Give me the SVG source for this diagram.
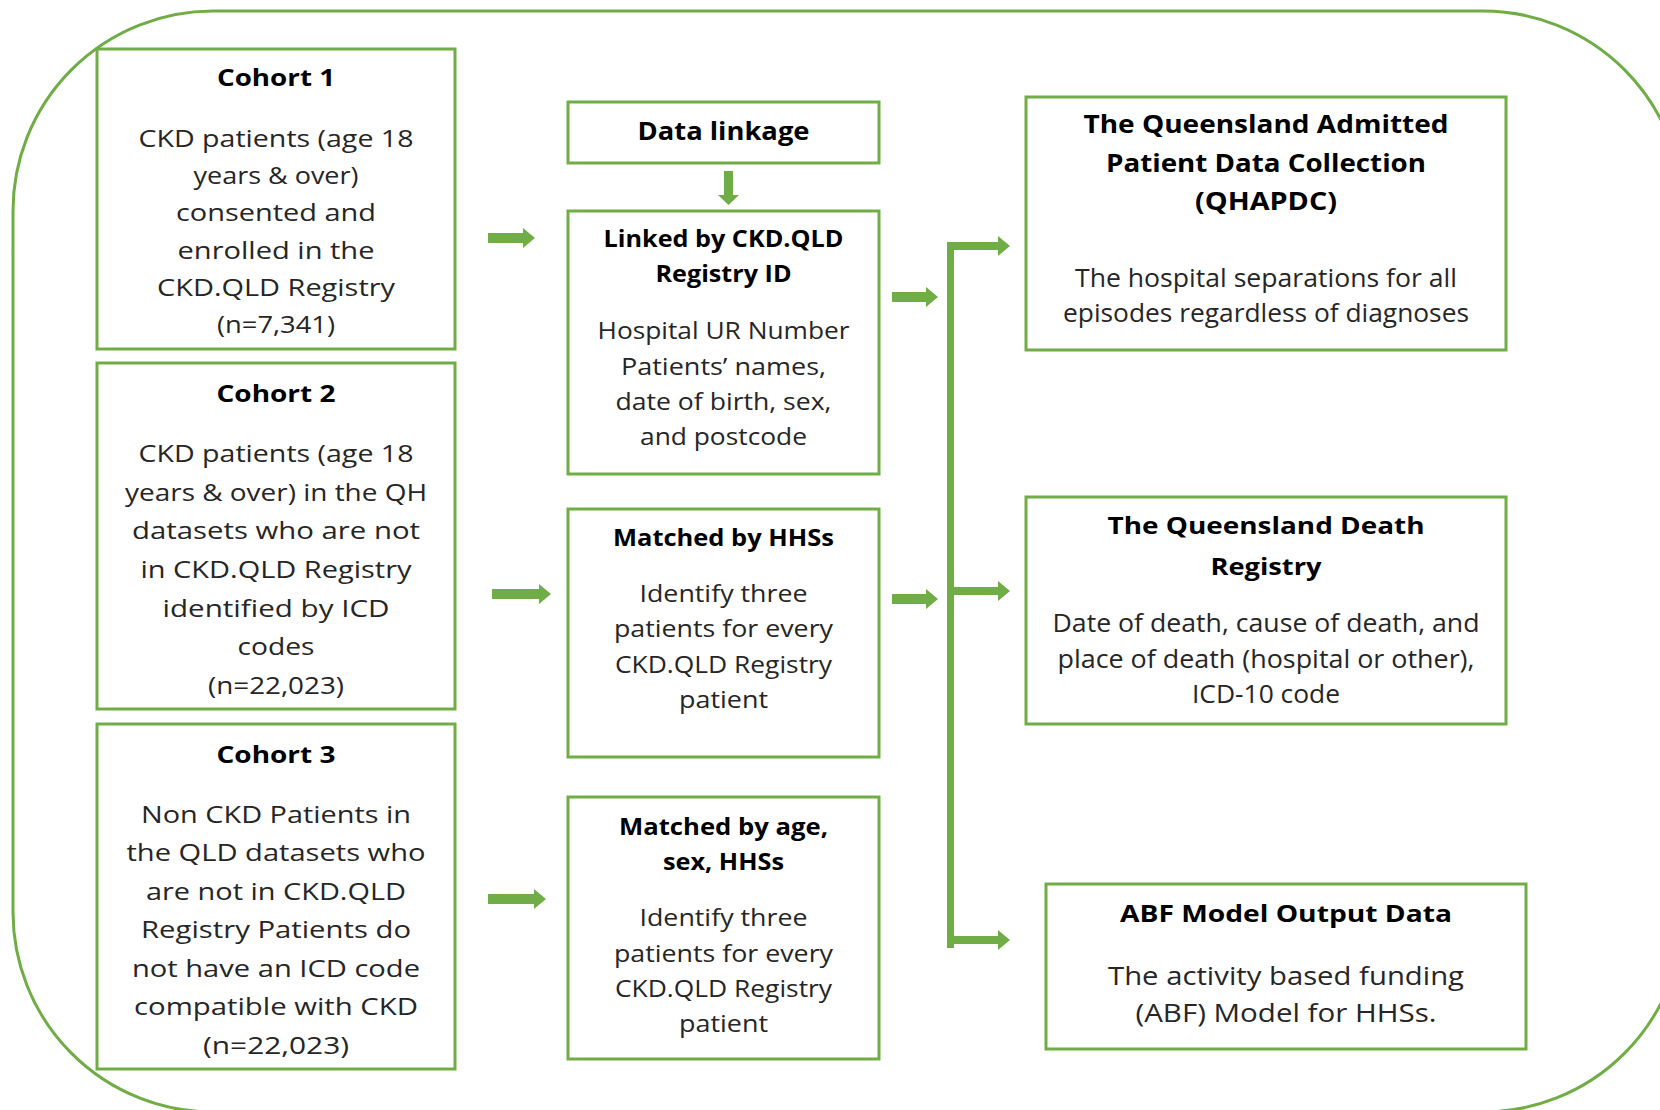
<svg xmlns="http://www.w3.org/2000/svg" width="1660" height="1110" viewBox="0 0 1660 1110">
<style>
.frame{fill:none;stroke:#70AD47;stroke-width:3}
.box{fill:#fff;stroke:#70AD47;stroke-width:3}
.t{font-family:"Open Sans","Liberation Sans",sans-serif;text-anchor:middle;fill:#262626}
.b{font-weight:bold;fill:#000}
.arr{fill:#70AD47;stroke:none}
</style>
<rect width="1660" height="1110" fill="#fff"/>
<rect class="frame" x="13" y="11" width="1670" height="1101" rx="200" ry="200"/>

<g id="connectors">
  <path class="arr" d="M488,233 H523 V228 L535,238 L523,248 V243 H488 Z"/>
  <path class="arr" d="M492,589 H539 V584 L551,594 L539,604 V599 H492 Z"/>
  <path class="arr" d="M488,894 H534 V889 L546,899 L534,909 V904 H488 Z"/>
  <path class="arr" d="M724,171 H733 V195 H739 L728.5,205 L718,195 H724 Z"/>
  <path class="arr" d="M892,292 H926 V287 L938,297 L926,307 V302 H892 Z"/>
  <path class="arr" d="M892,594 H926 V589 L938,599 L926,609 V604 H892 Z"/>
  <path class="arr" d="M947,242 H998 V236 L1010,246 L998,256 V250 H954 V587 H998 V581 L1010,591 L998,601 V595 H954 V936 H998 V930 L1010,940 L998,950 V944 H954 V948 H947 Z"/>
</g>

<g id="cohort1">
  <rect class="box" x="97" y="49" width="358" height="300"/>
  <text class="t b" x="276" y="86" font-size="24" textLength="118" lengthAdjust="spacingAndGlyphs">Cohort 1</text>
  <text class="t" x="276" y="147" font-size="23" textLength="275" lengthAdjust="spacingAndGlyphs">CKD patients (age 18</text>
  <text class="t" x="276" y="184" font-size="23" textLength="165" lengthAdjust="spacingAndGlyphs">years &amp; over)</text>
  <text class="t" x="276" y="221" font-size="23" textLength="200" lengthAdjust="spacingAndGlyphs">consented and</text>
  <text class="t" x="276" y="259" font-size="23" textLength="197" lengthAdjust="spacingAndGlyphs">enrolled in the</text>
  <text class="t" x="276" y="296" font-size="23" textLength="238" lengthAdjust="spacingAndGlyphs">CKD.QLD Registry</text>
  <text class="t" x="276" y="333" font-size="23" textLength="118" lengthAdjust="spacingAndGlyphs">(n=7,341)</text>
</g>

<g id="cohort2">
  <rect class="box" x="97" y="363" width="358" height="346"/>
  <text class="t b" x="276" y="402" font-size="24" textLength="119" lengthAdjust="spacingAndGlyphs">Cohort 2</text>
  <text class="t" x="276" y="462" font-size="23" textLength="275" lengthAdjust="spacingAndGlyphs">CKD patients (age 18</text>
  <text class="t" x="276" y="501" font-size="23" textLength="302" lengthAdjust="spacingAndGlyphs">years &amp; over) in the QH</text>
  <text class="t" x="276" y="539" font-size="23" textLength="288" lengthAdjust="spacingAndGlyphs">datasets who are not</text>
  <text class="t" x="276" y="578" font-size="23" textLength="271" lengthAdjust="spacingAndGlyphs">in CKD.QLD Registry</text>
  <text class="t" x="276" y="617" font-size="23" textLength="227" lengthAdjust="spacingAndGlyphs">identified by ICD</text>
  <text class="t" x="276" y="655" font-size="23" textLength="77" lengthAdjust="spacingAndGlyphs">codes</text>
  <text class="t" x="276" y="694" font-size="23" textLength="136" lengthAdjust="spacingAndGlyphs">(n=22,023)</text>
</g>

<g id="cohort3">
  <rect class="box" x="97" y="724" width="358" height="345"/>
  <text class="t b" x="276" y="763" font-size="24" textLength="119" lengthAdjust="spacingAndGlyphs">Cohort 3</text>
  <text class="t" x="276" y="823" font-size="23" textLength="270" lengthAdjust="spacingAndGlyphs">Non CKD Patients in</text>
  <text class="t" x="276" y="861" font-size="23" textLength="299" lengthAdjust="spacingAndGlyphs">the QLD datasets who</text>
  <text class="t" x="276" y="900" font-size="23" textLength="260" lengthAdjust="spacingAndGlyphs">are not in CKD.QLD</text>
  <text class="t" x="276" y="938" font-size="23" textLength="270" lengthAdjust="spacingAndGlyphs">Registry Patients do</text>
  <text class="t" x="276" y="977" font-size="23" textLength="288" lengthAdjust="spacingAndGlyphs">not have an ICD code</text>
  <text class="t" x="276" y="1015" font-size="23" textLength="284" lengthAdjust="spacingAndGlyphs">compatible with CKD</text>
  <text class="t" x="276" y="1054" font-size="23" textLength="146" lengthAdjust="spacingAndGlyphs">(n=22,023)</text>
</g>

<g id="data-linkage">
  <rect class="box" x="568" y="102" width="311" height="61"/>
  <text class="t b" x="723.5" y="140" font-size="25" textLength="172" lengthAdjust="spacingAndGlyphs">Data linkage</text>
</g>

<g id="linked">
  <rect class="box" x="568" y="211" width="311" height="263"/>
  <text class="t b" x="723.5" y="247" font-size="23" textLength="240" lengthAdjust="spacingAndGlyphs">Linked by CKD.QLD</text>
  <text class="t b" x="723.5" y="282" font-size="23" textLength="136" lengthAdjust="spacingAndGlyphs">Registry ID</text>
  <text class="t" x="723.5" y="339" font-size="24" textLength="252" lengthAdjust="spacingAndGlyphs">Hospital UR Number</text>
  <text class="t" x="723.5" y="375" font-size="24" textLength="205" lengthAdjust="spacingAndGlyphs">Patients’ names,</text>
  <text class="t" x="723.5" y="410" font-size="24" textLength="216" lengthAdjust="spacingAndGlyphs">date of birth, sex,</text>
  <text class="t" x="723.5" y="445" font-size="24" textLength="167" lengthAdjust="spacingAndGlyphs">and postcode</text>
</g>

<g id="matched-hhs">
  <rect class="box" x="568" y="509" width="311" height="248"/>
  <text class="t b" x="723.5" y="546" font-size="23" textLength="221" lengthAdjust="spacingAndGlyphs">Matched by HHSs</text>
  <text class="t" x="723.5" y="602" font-size="24" textLength="168" lengthAdjust="spacingAndGlyphs">Identify three</text>
  <text class="t" x="723.5" y="637" font-size="24" textLength="219" lengthAdjust="spacingAndGlyphs">patients for every</text>
  <text class="t" x="723.5" y="673" font-size="24" textLength="217" lengthAdjust="spacingAndGlyphs">CKD.QLD Registry</text>
  <text class="t" x="723.5" y="708" font-size="24" textLength="89" lengthAdjust="spacingAndGlyphs">patient</text>
</g>

<g id="matched-age">
  <rect class="box" x="568" y="797" width="311" height="262"/>
  <text class="t b" x="723.5" y="835" font-size="23" textLength="209" lengthAdjust="spacingAndGlyphs">Matched by age,</text>
  <text class="t b" x="723.5" y="870" font-size="23" textLength="121" lengthAdjust="spacingAndGlyphs">sex, HHSs</text>
  <text class="t" x="723.5" y="926" font-size="24" textLength="168" lengthAdjust="spacingAndGlyphs">Identify three</text>
  <text class="t" x="723.5" y="962" font-size="24" textLength="219" lengthAdjust="spacingAndGlyphs">patients for every</text>
  <text class="t" x="723.5" y="997" font-size="24" textLength="217" lengthAdjust="spacingAndGlyphs">CKD.QLD Registry</text>
  <text class="t" x="723.5" y="1032" font-size="24" textLength="89" lengthAdjust="spacingAndGlyphs">patient</text>
</g>

<g id="qhapdc">
  <rect class="box" x="1026" y="97" width="480" height="253"/>
  <text class="t b" x="1266" y="133" font-size="25" textLength="365" lengthAdjust="spacingAndGlyphs">The Queensland Admitted</text>
  <text class="t b" x="1266" y="172" font-size="25" textLength="320" lengthAdjust="spacingAndGlyphs">Patient Data Collection</text>
  <text class="t b" x="1266" y="210" font-size="25" textLength="142" lengthAdjust="spacingAndGlyphs">(QHAPDC)</text>
  <text class="t" x="1266" y="287" font-size="25" textLength="382" lengthAdjust="spacingAndGlyphs">The hospital separations for all</text>
  <text class="t" x="1266" y="322" font-size="25" textLength="406" lengthAdjust="spacingAndGlyphs">episodes regardless of diagnoses</text>
</g>

<g id="death-registry">
  <rect class="box" x="1026" y="497" width="480" height="227"/>
  <text class="t b" x="1266" y="534" font-size="24" textLength="317" lengthAdjust="spacingAndGlyphs">The Queensland Death</text>
  <text class="t b" x="1266" y="575" font-size="24" textLength="111" lengthAdjust="spacingAndGlyphs">Registry</text>
  <text class="t" x="1266" y="632" font-size="25" textLength="427" lengthAdjust="spacingAndGlyphs">Date of death, cause of death, and</text>
  <text class="t" x="1266" y="668" font-size="25" textLength="417" lengthAdjust="spacingAndGlyphs">place of death (hospital or other),</text>
  <text class="t" x="1266" y="703" font-size="25" textLength="148" lengthAdjust="spacingAndGlyphs">ICD-10 code</text>
</g>

<g id="abf">
  <rect class="box" x="1046" y="884" width="480" height="165"/>
  <text class="t b" x="1286" y="922" font-size="24" textLength="332" lengthAdjust="spacingAndGlyphs">ABF Model Output Data</text>
  <text class="t" x="1286" y="985" font-size="25" textLength="356" lengthAdjust="spacingAndGlyphs">The activity based funding</text>
  <text class="t" x="1286" y="1022" font-size="25" textLength="301" lengthAdjust="spacingAndGlyphs">(ABF) Model for HHSs.</text>
</g>
</svg>
